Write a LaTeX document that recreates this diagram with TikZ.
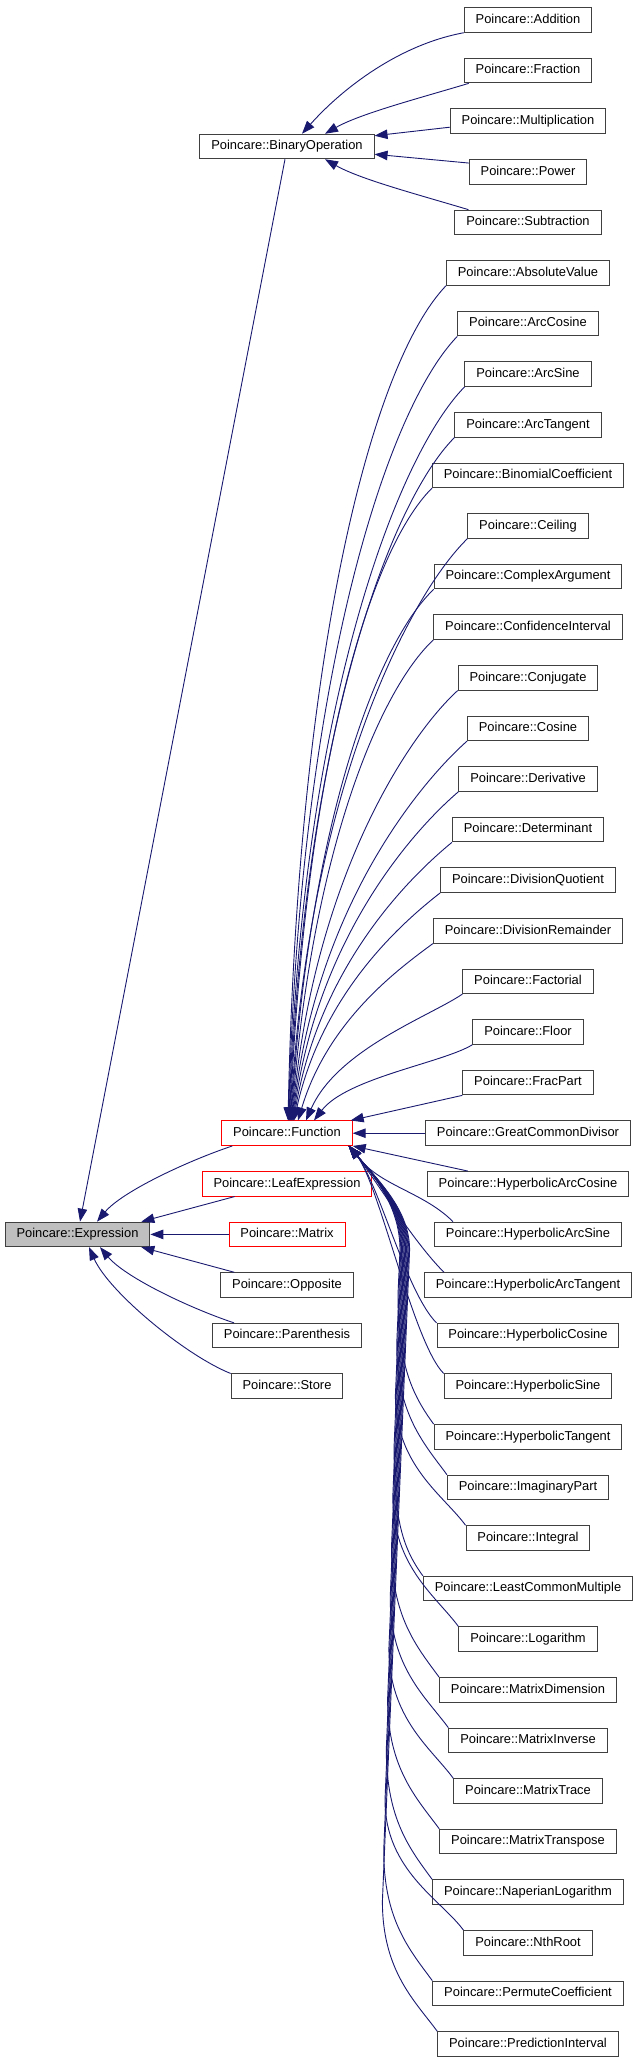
\documentclass[tikz,border=0pt]{standalone}
\usepackage{fontspec}
\setmainfont{Liberation Sans}
\usetikzlibrary{arrows.meta}
\definecolor{edgeblue}{RGB}{25,25,112}
\definecolor{boxgray}{RGB}{64,64,64}
\definecolor{hitred}{RGB}{255,0,0}
\definecolor{selfgray}{RGB}{191,191,191}

\tikzset{
  cls/.style={draw=boxgray, line width=1pt, inner xsep=11.4pt, inner ysep=0pt,
    minimum height=24.5pt, text height=9.3pt, text depth=2.7pt,
    font=\fontsize{12.9}{14}\selectfont},
  clsred/.style={cls, draw=hitred},
  dep/.style={edgeblue, line width=0.9pt, -{Triangle[length=13pt,width=9.5pt]}},
}

\begin{document}
\begin{tikzpicture}[x=1pt,y=-1pt]
    \def\rowh{50.6}
    \def\rowy{20}
    \def\colM{287}
    \def\colR{528}
    \useasboundingbox (0,0) rectangle (639,2064);

    % ── Left and middle columns ─────────────────────────────────────────────
    \node[cls,fill=selfgray] (expr) at (77.5,{\rowy+24*\rowh}) {Poincare::Expression};
    \node[cls]    (binop)    at (\colM,{\rowy+2.5*\rowh}) {Poincare::BinaryOperation};
    \node[clsred] (func)     at (\colM,{\rowy+22*\rowh})  {Poincare::Function};
    \node[clsred] (leafexpr) at (\colM,{\rowy+23*\rowh})  {Poincare::LeafExpression};
    \node[clsred] (matrix)   at (\colM,{\rowy+24*\rowh})  {Poincare::Matrix};
    \node[cls]    (opposite) at (\colM,{\rowy+25*\rowh})  {Poincare::Opposite};
    \node[cls]    (paren)    at (\colM,{\rowy+26*\rowh})  {Poincare::Parenthesis};
    \node[cls]    (store)    at (\colM,{\rowy+27*\rowh})  {Poincare::Store};

    % ── Right column ────────────────────────────────────────────────────────
    \foreach \name [count=\r from 0] in {Addition,Fraction,Multiplication,Power,Subtraction,
        AbsoluteValue,ArcCosine,ArcSine,ArcTangent,BinomialCoefficient,Ceiling,ComplexArgument,
        ConfidenceInterval,Conjugate,Cosine,Derivative,Determinant,DivisionQuotient,
        DivisionRemainder,Factorial,Floor,FracPart,GreatCommonDivisor,HyperbolicArcCosine,
        HyperbolicArcSine,HyperbolicArcTangent,HyperbolicCosine,HyperbolicSine,HyperbolicTangent,
        ImaginaryPart,Integral,LeastCommonMultiple,Logarithm,MatrixDimension,MatrixInverse,
        MatrixTrace,MatrixTranspose,NaperianLogarithm,NthRoot,PermuteCoefficient,PredictionInterval} {
      \node[cls] (\name) at (\colR,{\rowy+\r*\rowh}) {Poincare::\name};
    }

    % ── Into BinaryOperation ────────────────────────────────────────────────
    \draw[dep] (Addition.south west) .. controls +(-65,12) and +(40,-45) .. ([xshift=15pt]binop.north);
    \draw[dep] ([xshift=5pt]Fraction.south west) .. controls +(-50,15) and +(35,-20) .. ([xshift=38pt]binop.north);
    \draw[dep] ([yshift=-6pt]Multiplication.west) -- ([yshift=-2pt]binop.north east);
    \draw[dep] ([yshift=-4pt]Power.north west) -- ([yshift=5pt]binop.south east);
    \draw[dep] ([xshift=14pt]Subtraction.north west) .. controls +(-50,-15) and +(35,20) .. ([xshift=38pt]binop.south);

    % ── Into Expression ─────────────────────────────────────────────────────
    \draw[dep] ([xshift=-2pt]binop.south) -- ([xshift=2.5pt]expr.north);
    \draw[dep] ([xshift=11pt]func.south west) .. controls +(-45,15) and +(25,-30) .. ([xshift=19.5pt]expr.north);
    \draw[dep] ([xshift=33pt]leafexpr.south west) -- ([xshift=-9pt]expr.north east);
    \draw[dep] (matrix.west) -- (expr.east);
    \draw[dep] ([xshift=14pt]opposite.north west) -- ([xshift=-9pt]expr.south east);
    \draw[dep] ([xshift=22pt]paren.north west) .. controls +(-45,-15) and +(25,30) .. ([xshift=22.5pt]expr.south);
    \draw[dep] (store.north west) .. controls +(-45,-18) and +(20,45) .. ([xshift=11.5pt]expr.south);

    % ── Into Function, from above ───────────────────────────────────────────
    \foreach \name/\r/\xo in {AbsoluteValue/5/1,ArcCosine/6/1.5,ArcSine/7/2,ArcTangent/8/2.5,
        BinomialCoefficient/9/3,Ceiling/10/3.5,ComplexArgument/11/4,ConfidenceInterval/12/4.5,
        Conjugate/13/5,Cosine/14/5.5,Derivative/15/6,Determinant/16/6.5,DivisionQuotient/17/7,
        DivisionRemainder/18/11,Factorial/19/19,Floor/20/27} {
      \pgfmathsetmacro\dy{1120.7-(\rowy+\r*\rowh+12.75)}
      \draw[dep] (\name.south west) .. controls +({-(25+0.06*\dy)},{12+0.08*\dy})
        and +({35-0.03*\dy},{-0.56*\dy}) .. ([xshift=\xo pt]func.north);
    }
    \draw[dep] (FracPart.south west) -- ([xshift=-2pt]func.north east);
    \draw[dep] (GreatCommonDivisor.west) -- (func.east);

    % ── Into Function, from below ───────────────────────────────────────────
    \draw[dep] ([xshift=41pt]HyperbolicArcCosine.north west) -- (func.south east);
    \foreach \name/\dx in {HyperbolicArcSine/19pt,HyperbolicArcTangent/20pt,HyperbolicCosine/0pt,HyperbolicSine/0pt} {
      \draw[dep] ([xshift=\dx]\name.north west) .. controls +(-30,-30) and +(30,40) .. ([xshift=-3pt]func.south east);
    }
    \foreach \name [count=\i from 0] in {HyperbolicTangent,ImaginaryPart,Integral,LeastCommonMultiple,
        Logarithm,MatrixDimension,MatrixInverse,MatrixTrace,MatrixTranspose,NaperianLogarithm,
        NthRoot,PermuteCoefficient,PredictionInterval} {
      \pgfmathsetmacro\xb{398-1.3*\i}
      \pgfmathsetmacro\xm{400+0.8*\i}
      \pgfmathsetmacro\yb{\rowy+(28+\i)*\rowh-12.75-130}
      \draw[dep] (\name.north west) .. controls +(-22,-30) and +(0,70) .. (\xb,\yb)
        -- (\xm,1250) .. controls +(0,-40) and +(30,35) .. ([xshift=-4pt]func.south east);
    }
\end{tikzpicture}
\end{document}
